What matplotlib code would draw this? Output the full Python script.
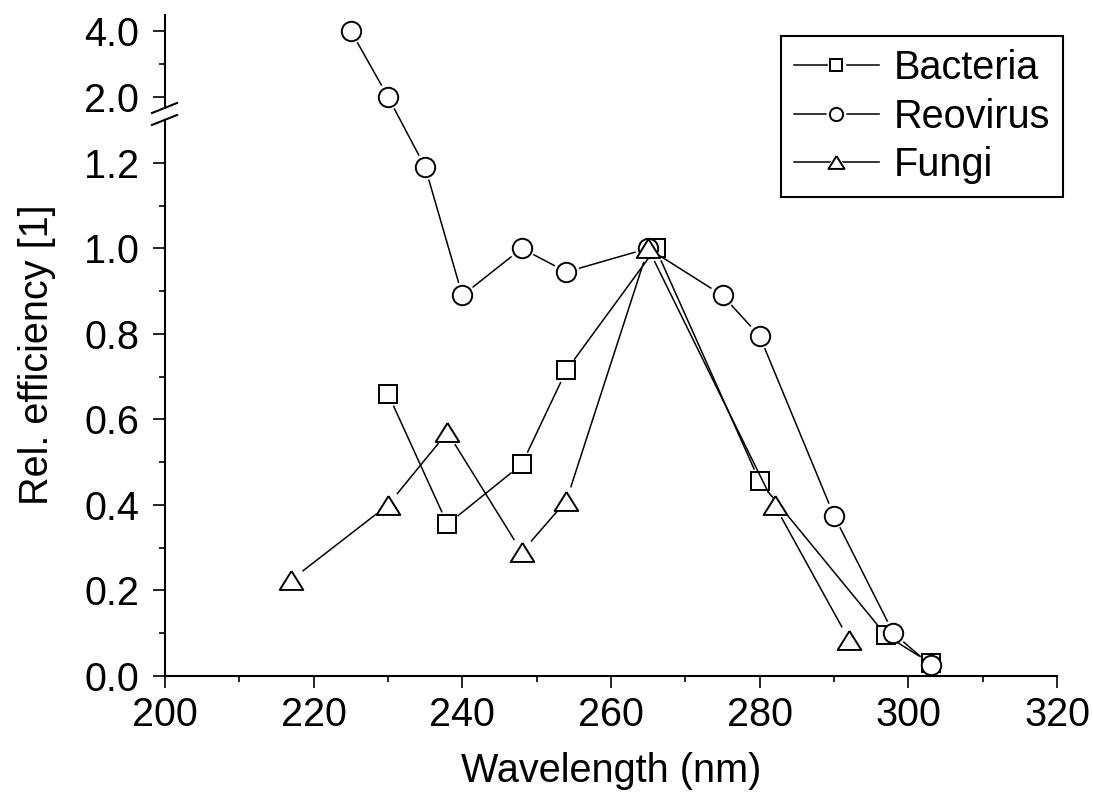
import numpy as np
import matplotlib
matplotlib.use("Agg")
import matplotlib.pyplot as plt
from matplotlib.lines import Line2D
from matplotlib.ticker import FixedLocator, FixedFormatter

# ── Data ──────────────────────────────────────────────────────────────────────

bacteria_wl  = [230, 238, 248, 254, 266, 280, 297, 303]
bacteria_eff = [0.66, 0.355, 0.495, 0.715, 1.0, 0.455, 0.095, 0.03]

reovirus_wl  = [225, 230, 235, 240, 248, 254, 265, 275, 280, 290, 298, 303]
reovirus_eff = [4.0, 2.0, 1.19, 0.89, 1.0, 0.945, 1.0, 0.89, 0.795, 0.375, 0.10, 0.025]

fungi_wl  = [217, 230, 238, 248, 254, 265, 282, 292]
fungi_eff = [0.225, 0.40, 0.57, 0.29, 0.41, 1.0, 0.40, 0.085]

y_major = [0.0, 0.2, 0.4, 0.6, 0.8, 1.0, 1.2, 2.0, 4.0]
y_minor = [0.1, 0.3, 0.5, 0.7, 0.9, 1.1, 3.0]
y_labels = ["0.0", "0.2", "0.4", "0.6", "0.8", "1.0", "1.2", "2.0", "4.0"]

# ── Broken y scale: linear 0..1.3, squeezed gap, compressed 2..4.5 ───────────

BREAK_LO = 1.30
BREAK_HI = 2.0
GAP = 0.0544
K_UP = 0.0772


def fwd(y):
    y = np.asarray(y, dtype=float)
    return np.where(y <= BREAK_LO, y,
                    np.where(y < BREAK_HI,
                             BREAK_LO + (y - BREAK_LO) * GAP / (BREAK_HI - BREAK_LO),
                             BREAK_LO + GAP + (y - BREAK_HI) * K_UP))


def inv(t):
    t = np.asarray(t, dtype=float)
    return np.where(t <= BREAK_LO, t,
                    np.where(t < BREAK_LO + GAP,
                             BREAK_LO + (t - BREAK_LO) * (BREAK_HI - BREAK_LO) / GAP,
                             BREAK_HI + (t - BREAK_LO - GAP) / K_UP))


plt.rcParams["font.family"] = ["Liberation Sans", "DejaVu Sans"]
FS = 28.5

fig = plt.figure(figsize=(10.93, 7.92), dpi=100)
ax = fig.add_axes([165 / 1093, 116 / 792, 892 / 1093, 661 / 792])
ax.set_yscale("function", functions=(fwd, inv))
ax.set_xlim(200, 320)
ax.set_ylim(0, 4.48)

TRI = [(0, 0.8), (-1, -0.8), (1, -0.8), (0, 0.8)]
LW, MEW = 1.1, 1.4


def series(x, y, marker, ms, gap_px, label):
    """Origin-style: each segment stops gap_px short of the markers."""
    pts = ax.transData.transform(np.column_stack([x, y]))
    inv_t = ax.transData.inverted()
    for p0, p1 in zip(pts[:-1], pts[1:]):
        d = p1 - p0
        n = np.hypot(*d)
        if n <= 2 * gap_px:
            continue
        u = d / n
        seg = inv_t.transform(np.array([p0 + u * gap_px, p1 - u * gap_px]))
        ax.plot(seg[:, 0], seg[:, 1], color="black", lw=LW, solid_capstyle="butt")
    ax.plot(x, y, ls="none", marker=marker, ms=ms, mfc="white", mec="black", mew=MEW)

    h_line = Line2D([], [], color="black", lw=LW)
    h_halo = Line2D([], [], ls="none", marker=marker, ms=ms + 5.5,
                    mfc="white", mec="white")
    h_mark = Line2D([], [], ls="none", marker=marker, ms=ms,
                    mfc="white", mec="black", mew=MEW)
    return (h_line, h_halo, h_mark), label


handles = [
    series(bacteria_wl, bacteria_eff, "s", 12.5, 13, "Bacteria"),
    series(reovirus_wl, reovirus_eff, "o", 14, 13, "Reovirus"),
    series(fungi_wl, fungi_eff, TRI, 17, 14, "Fungi"),
]

# ── Axes, ticks ───────────────────────────────────────────────────────────────

ax.set_xticks(np.arange(200, 321, 20))
ax.set_xticks(np.arange(210, 320, 20), minor=True)
ax.yaxis.set_major_locator(FixedLocator(y_major))
ax.yaxis.set_major_formatter(FixedFormatter(y_labels))
ax.yaxis.set_minor_locator(FixedLocator(y_minor))

ax.tick_params(which="both", direction="out", labelsize=FS, width=1.2)
ax.tick_params(which="major", length=8.5)
ax.tick_params(which="minor", length=4.3)
ax.tick_params(axis="x", pad=6)
ax.tick_params(axis="y", pad=10)

for s in ("top", "right", "left"):
    ax.spines[s].set_visible(False)
ax.spines["bottom"].set_linewidth(1.5)

# left spine drawn in two pieces with the break between them
ytr = ax.get_yaxis_transform()
ax.plot([0, 0], [0, BREAK_LO], transform=ytr, color="black", lw=1.5, clip_on=False)
ax.plot([0, 0], [1.67, 4.48], transform=ytr, color="black", lw=1.5, clip_on=False)
for y0, y1 in ((0.8517, 0.8669), (0.8336, 0.8487)):
    ax.plot([-0.0146, 0.0135], [y0, y1], transform=ax.transAxes,
            color="black", lw=1.5, clip_on=False)
ax.set_xlim(200, 320)
ax.set_ylim(0, 4.48)

ax.set_xlabel("Wavelength (nm)", fontsize=FS, labelpad=13)
ax.set_ylabel("Rel. efficiency [1]", fontsize=FS)
ax.yaxis.set_label_coords(-0.122, 0.486)

leg = ax.legend([h for h, _ in handles], [l for _, l in handles],
                loc="upper right", bbox_to_anchor=(1.007, 0.968), borderaxespad=0,
                fontsize=FS, markerscale=0.68, handlelength=2.15, handletextpad=0.38,
                labelspacing=0.26, borderpad=0.33, fancybox=False, framealpha=1,
                edgecolor="black")
leg.get_frame().set_linewidth(1.5)

fig.savefig("out.png", dpi=100)
